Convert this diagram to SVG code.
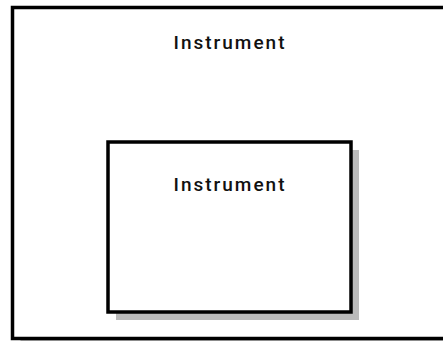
<svg xmlns="http://www.w3.org/2000/svg" width="443" height="341" viewBox="0 0 443 341">
<style>
.box{fill:#fff;stroke:#000;stroke-width:3.5}
.shadow{fill:#bbb}
.lbl{font-family:Roboto,"Liberation Sans",sans-serif;font-size:19px;font-weight:500;letter-spacing:2px;fill:#111;text-anchor:middle}
</style>
<g id="outer">
<rect class="shadow" x="20.5" y="15.5" width="433" height="331"/>
<rect class="box" x="12.5" y="7.5" width="433" height="331"/>
<text class="lbl" x="230" y="49">Instrument</text>
</g>
<g id="inner">
<rect class="shadow" x="116" y="150" width="243" height="170"/>
<rect class="box" x="108" y="142" width="243" height="170"/>
<text class="lbl" x="230" y="191">Instrument</text>
</g>
<g id="connectors"></g>
</svg>
